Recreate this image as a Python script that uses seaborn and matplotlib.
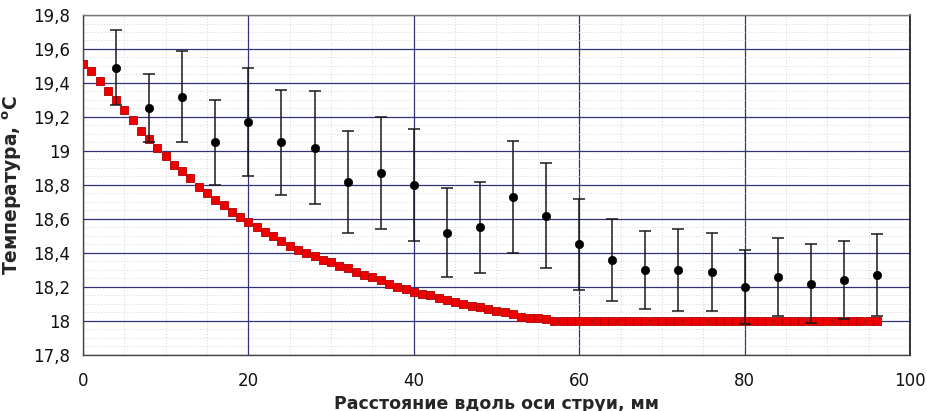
import numpy as np
import pandas as pd
import matplotlib
matplotlib.use("Agg")
import matplotlib.pyplot as plt
import seaborn as sns
from matplotlib.ticker import MultipleLocator, FuncFormatter

# ---- data ----
exp_x = [4, 8, 12, 16, 20, 24, 28, 32, 36, 40, 44, 48, 52, 56, 60, 64, 68, 72, 76, 80, 84, 88, 92, 96]
exp_t = [19.49, 19.25, 19.32, 19.05, 19.17, 19.05, 19.02, 18.82, 18.87, 18.80, 18.52, 18.55,
         18.73, 18.62, 18.45, 18.36, 18.30, 18.30, 18.29, 18.20, 18.26, 18.22, 18.24, 18.27]
exp_err = [0.22, 0.20, 0.27, 0.25, 0.32, 0.31, 0.33, 0.30, 0.33, 0.33, 0.26, 0.27,
           0.33, 0.31, 0.27, 0.24, 0.23, 0.24, 0.23, 0.22, 0.23, 0.23, 0.23, 0.24]

calc_x = list(range(0, 97))
calc_t = [19.51, 19.47, 19.41, 19.35, 19.30, 19.24, 19.18, 19.12, 19.07, 19.02,
          18.97, 18.92, 18.88, 18.84, 18.79, 18.75, 18.71, 18.68, 18.64, 18.61,
          18.58, 18.55, 18.525, 18.50, 18.47, 18.44, 18.42, 18.40, 18.38, 18.36,
          18.345, 18.325, 18.31, 18.29, 18.27, 18.26, 18.24, 18.22, 18.20, 18.19,
          18.17, 18.16, 18.15, 18.135, 18.125, 18.11, 18.10, 18.09, 18.08, 18.07,
          18.06, 18.05, 18.04, 18.025, 18.02, 18.015, 18.01,
          18.0, 18.0, 18.0, 18.0, 18.0, 18.0, 18.0, 18.0, 18.0, 18.0,
          18.0, 18.0, 18.0, 18.0, 18.0, 18.0, 18.0, 18.0, 18.0, 18.0,
          18.0, 18.0, 18.0, 18.0, 18.0, 18.0, 18.0, 18.0, 18.0, 18.0,
          18.0, 18.0, 18.0, 18.0, 18.0, 18.0, 18.0, 18.0, 18.0, 18.0]

x_label = "Расстояние вдоль оси струи, мм"
y_label = r"Температура, $^{\mathbf{o}}$C"

calc_df = pd.DataFrame({"x": calc_x, "t": calc_t})
exp_df = pd.DataFrame({"x": exp_x, "t": exp_t, "err": exp_err})

sns.set_style("white")
plt.rcParams["font.family"] = ["DejaVu Sans"]

fig = plt.figure(figsize=(9.28, 4.11), dpi=100)
ax = fig.add_axes([0.0894, 0.1363, 0.8912, 0.8272])

ax.set_xlim(0, 100)
ax.set_ylim(17.8, 19.8)

ax.xaxis.set_major_locator(MultipleLocator(20))
ax.xaxis.set_minor_locator(MultipleLocator(5))
ax.yaxis.set_major_locator(MultipleLocator(0.2))
ax.yaxis.set_minor_locator(MultipleLocator(0.05))

ax.grid(which="minor", color="#d4d4d4", linestyle=(0, (1, 2)), linewidth=0.7, zorder=0)
ax.grid(which="major", color="#33337a", linestyle="-", linewidth=0.9, zorder=0.5)
ax.set_axisbelow(True)

# calculated curve (red squares)
sns.scatterplot(data=calc_df, x="x", y="t", marker="s", s=38, color="#ee0000",
                edgecolor="#b00000", linewidth=0.6, ax=ax, zorder=3, legend=False)

# experimental points with error bars
ax.errorbar(exp_df["x"], exp_df["t"], yerr=exp_df["err"], fmt="none",
            ecolor="#1a1a1a", elinewidth=1.1, capsize=4, capthick=1.1, zorder=4)
sns.scatterplot(data=exp_df, x="x", y="t", marker="o", s=36, color="black",
                edgecolor="black", ax=ax, zorder=5, legend=False)

def yfmt(v, pos):
    s = f"{v:.1f}"
    if s.endswith(".0"):
        s = s[:-2]
    return s.replace(".", ",")

ax.yaxis.set_major_formatter(FuncFormatter(yfmt))
ax.xaxis.set_major_formatter(FuncFormatter(lambda v, p: f"{v:.0f}"))

ax.tick_params(axis="both", which="major", direction="out", length=6, width=1,
               color="#333333", labelsize=12, labelcolor="#111111")
ax.tick_params(axis="both", which="minor", direction="out", length=3.5, width=0.8,
               color="#333333")
ax.tick_params(axis="x", which="major", pad=6)

for side in ["left", "bottom"]:
    ax.spines[side].set_color("#444444")
    ax.spines[side].set_linewidth(1.0)
ax.spines["top"].set_color("#777777")
ax.spines["top"].set_linewidth(1.0)
ax.spines["right"].set_color("#111111")
ax.spines["right"].set_linewidth(1.2)

ax.set_xlabel(x_label, fontsize=12.5, fontweight="bold", labelpad=3.5)
ax.set_ylabel(y_label, fontsize=13.5, fontweight="bold", labelpad=6)

fig.savefig("out.png", dpi=100)
